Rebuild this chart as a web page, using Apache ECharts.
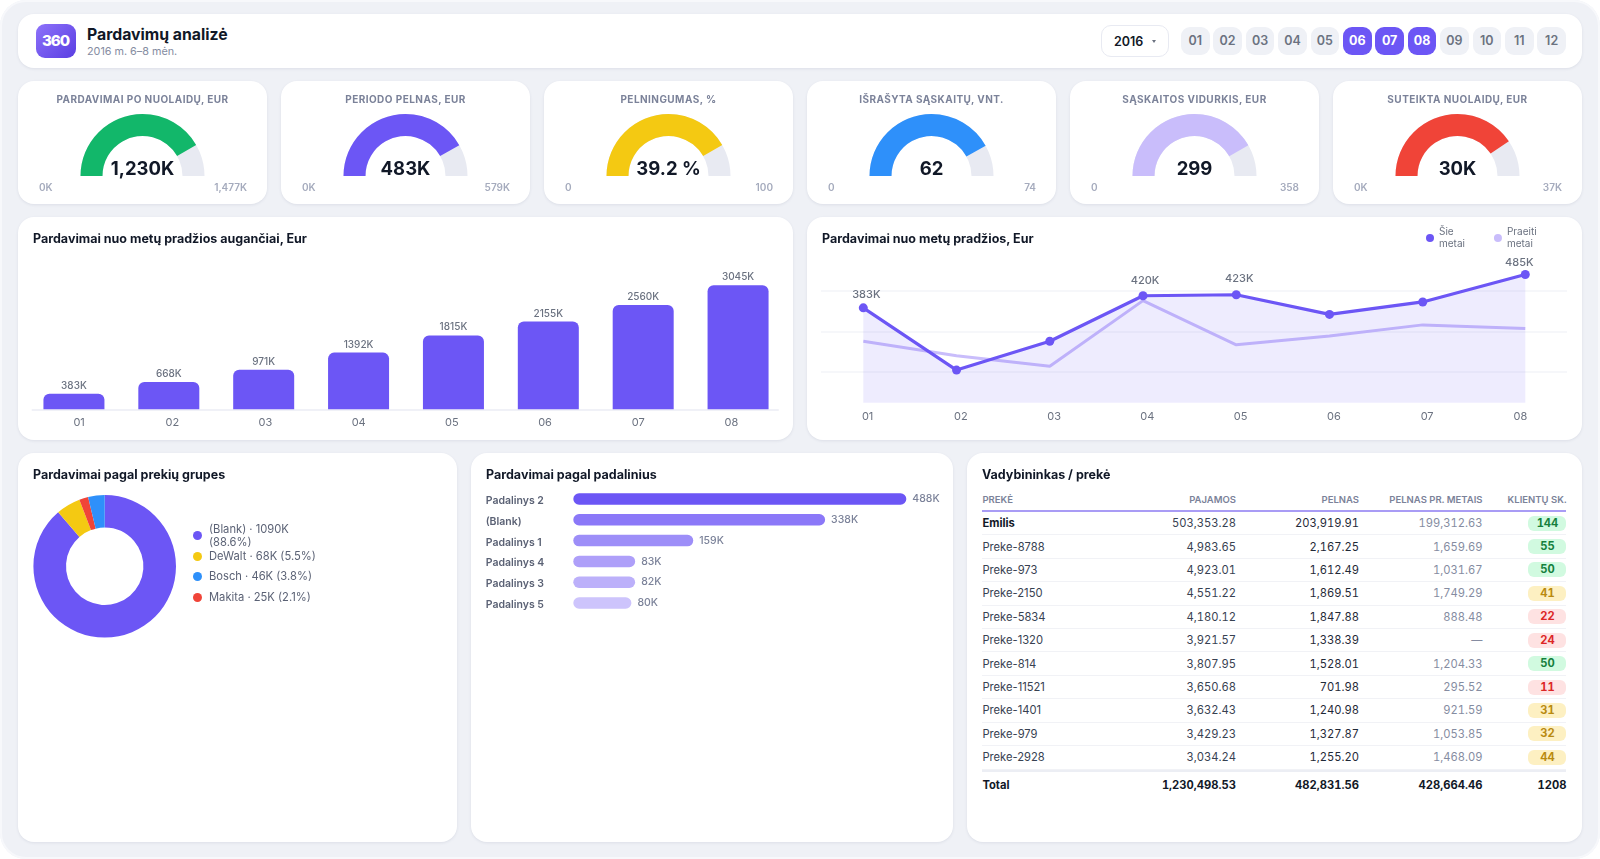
<!DOCTYPE html>
<html lang="lt">
<head>
<meta charset="UTF-8">
<title>Pardavimų analizė</title>
<script src="https://cdn.jsdelivr.net/npm/echarts@6/dist/echarts.min.js"></script>
<style>
    * { box-sizing: border-box; }
    html, body { margin: 0; width: 1600px; height: 859px; overflow: hidden; background: #fff; font-family: Inter, sans-serif; color: #111827; }
    .page { position: absolute; left: 0; top: 0; width: 1600px; height: 859px; background: #eff1f6; border-radius: 26px; box-shadow: inset 0 0 0 2px #f7f8fb; }
    .card { position: absolute; background: #fff; border-radius: 16px; box-shadow: 0 1px 3px rgba(60, 70, 110, 0.10); }
    .chart { position: absolute; left: 0; top: 0; width: 100%; height: 100%; }
    .card-title { position: absolute; left: 15px; top: 13.5px; font-size: 12.5px; line-height: 16px; font-weight: 700; color: #111827; z-index: 2; }

    .logo { position: absolute; left: 17.5px; top: 10.5px; width: 40px; height: 34px; border-radius: 9px; background: linear-gradient(135deg, #8d72fa, #5a3ee2); color: #fff; font-size: 15px; font-weight: 800; letter-spacing: -1px; line-height: 34px; text-align: center; }
    .head-title { position: absolute; left: 69px; top: 10px; font-size: 15.8px; line-height: 21px; font-weight: 700; }
    .head-sub { position: absolute; left: 69px; top: 30px; font-size: 10.8px; line-height: 15px; color: #858ca1; }
    .year { position: absolute; left: 1083px; top: 11.5px; width: 68px; height: 32px; border: 1px solid #e8eaf2; border-radius: 10px; font-size: 12.5px; font-weight: 600; line-height: 31px; padding-left: 12px; }
    .year i { position: absolute; left: 50px; top: 14px; border: 2.5px solid transparent; border-top: 3px solid #6b7280; }
    .month { position: absolute; top: 13.5px; width: 28.5px; height: 28px; border-radius: 9px; background: #eff1f6; color: #6b7280; font-size: 12.5px; font-weight: 600; line-height: 28px; text-align: center; }
    .month.on { background: #6c56f5; color: #fff; font-weight: 700; }

    .kpi-title { position: absolute; left: 0; right: 0; top: 10.5px; text-align: center; font-size: 10px; line-height: 14px; font-weight: 700; letter-spacing: 0.45px; color: #7b8299; }
    .kpi-min, .kpi-max { position: absolute; top: 100px; font-size: 10px; line-height: 12px; font-weight: 600; color: #a5abbd; }
    .kpi-min { left: 21px; }
    .kpi-max { right: 20px; }

    .legend-rows { position: absolute; left: 175px; top: 72.5px; width: 130px; font-size: 11.2px; line-height: 13px; color: #5b6275; }
    .legend-row { position: relative; height: 20.5px; padding-left: 16px; display: flex; align-items: center; }
    .legend-row i { position: absolute; left: 0; top: 50%; margin-top: -4.5px; width: 9px; height: 9px; border-radius: 50%; }

    .t-wrap { position: absolute; left: 15.4px; top: 35.5px; width: 584.1px; font-size: 11.2px; font-variant-numeric: tabular-nums; }
    .t-row { display: flex; height: 23.43px; align-items: center; border-bottom: 1.5px solid #f1f2f6; color: #111827; }
    .t-row > div { text-align: right; white-space: nowrap; }
    .t-row > div:nth-child(1) { width: 130.6px; text-align: left; color: #374151; font-variant-numeric: normal; }
    .t-row > div:nth-child(2) { width: 123px; color: #374151; }
    .t-row > div:nth-child(3) { width: 123px; color: #1f2937; }
    .t-row > div:nth-child(4) { width: 123.5px; }
    .t-row > div:nth-child(5) { flex: 1; }
    .t-row .prev { color: #858ca1; }
    .t-row > .clients { display: flex; justify-content: flex-end; }
    .badge { width: 38px; height: 15px; line-height: 15px; border-radius: 6px; text-align: center; font-weight: 700; }
    .t-head { height: 23.4px; border-bottom: 2px solid #a99cf5; font-size: 9.5px; font-weight: 600; }
    .t-head > div, .t-head > div:nth-child(n) { color: #7b8299; }
    .t-row.first > div:nth-child(1) { font-weight: 700; color: #111827; }
    .t-total { height: 29px; border-bottom: 0; border-top: 2.5px solid #eceef4; font-weight: 700; }
    .t-total > div, .t-total > div:nth-child(n) { color: #111827; }
    .t-total > .clients { text-align: right; display: block; }
</style>
</head>
<body>
<div class="page" id="page"></div>
<script>
    var months = ['01', '02', '03', '04', '05', '06', '07', '08', '09', '10', '11', '12'];
    var activeMonths = ['06', '07', '08'];

    var kpiTitles = ['PARDAVIMAI PO NUOLAIDŲ, EUR', 'PERIODO PELNAS, EUR', 'PELNINGUMAS, %', 'IŠRAŠYTA SĄSKAITŲ, VNT.', 'SĄSKAITOS VIDURKIS, EUR', 'SUTEIKTA NUOLAIDŲ, EUR'];
    var kpiValues = [1230, 483, 39.2, 62, 299, 30];
    var kpiScaleMax = [1477, 579, 47, 74, 358, 37]; // pelningumas gauge is drawn to 47 though its label says 100
    var kpiValueLabels = ['1,230K', '483K', '39.2 %', '62', '299', '30K'];
    var kpiMinLabels = ['0K', '0K', '0', '0', '0', '0K'];
    var kpiMaxLabels = ['1,477K', '579K', '100', '74', '358', '37K'];
    var kpiColors = ['#12b76a', '#6c56f5', '#f4c912', '#2e90fa', '#c9bdfb', '#f04438'];

    var periods = ['01', '02', '03', '04', '05', '06', '07', '08'];
    var cumulativeSales = [383, 668, 971, 1392, 1815, 2155, 2560, 3045];
    var linePeriods = [1, 2, 3, 4, 5, 6, 7, 8.1]; // the last point sits further right in the picture
    var salesThisYear = [383, 193, 281, 420, 423, 363, 401, 485];
    var salesLastYear = [281, 237, 205, 405, 270, 297, 331, 320];
    var labelledPoints = [0, 3, 4, 7];

    var groupNames = ['(Blank)', 'DeWalt', 'Makita', 'Bosch'];
    var groupValues = [1090, 68, 25, 46];
    var groupColors = ['#6c56f5', '#f4c912', '#f04438', '#2e90fa'];
    var groupLegendOrder = ['(Blank)', 'DeWalt', 'Bosch', 'Makita'];
    var groupLegendText = ['(Blank) · 1090K (88.6%)', 'DeWalt · 68K (5.5%)', 'Bosch · 46K (3.8%)', 'Makita · 25K (2.1%)'];

    var deptNames = ['Padalinys 2', '(Blank)', 'Padalinys 1', 'Padalinys 4', 'Padalinys 3', 'Padalinys 5'];
    var deptBarLengths = [447, 338, 161, 83, 83, 78]; // top bar is shorter than its label
    var deptLabels = ['488K', '338K', '159K', '83K', '82K', '80K'];
    var deptColors = ['#6c56f5', '#8b78f8', '#9d8ef8', '#ae9ff9', '#bcb0fa', '#cdc4fc'];

    var tableHead = ['PREKĖ', 'PAJAMOS', 'PELNAS', 'PELNAS PR. METAIS', 'KLIENTŲ SK.'];
    var rowNames = ['Emilis', 'Preke-8788', 'Preke-973', 'Preke-2150', 'Preke-5834', 'Preke-1320', 'Preke-814', 'Preke-11521', 'Preke-1401', 'Preke-979', 'Preke-2928'];
    var rowRevenue = ['503,353.28', '4,983.65', '4,923.01', '4,551.22', '4,180.12', '3,921.57', '3,807.95', '3,650.68', '3,632.43', '3,429.23', '3,034.24'];
    var rowProfit = ['203,919.91', '2,167.25', '1,612.49', '1,869.51', '1,847.88', '1,338.39', '1,528.01', '701.98', '1,240.98', '1,327.87', '1,255.20'];
    var rowPrevProfit = ['199,312.63', '1,659.69', '1,031.67', '1,749.29', '888.48', '—', '1,204.33', '295.52', '921.59', '1,053.85', '1,468.09'];
    var rowClients = [144, 55, 50, 41, 22, 24, 50, 11, 31, 32, 44];
    var totalRow = ['Total', '1,230,498.53', '482,831.56', '428,664.46', '1208'];

    var page = document.getElementById('page');
    var font = 'Inter, sans-serif';

    function addCard(x, y, w, h) {
        var el = document.createElement('div');
        el.className = 'card';
        el.style.cssText = 'left:' + x + 'px;top:' + y + 'px;width:' + w + 'px;height:' + h + 'px';
        page.appendChild(el);
        return el;
    }
    function addDiv(parent, cls, text) {
        var el = document.createElement('div');
        el.className = cls;
        if (text !== undefined) el.textContent = text;
        parent.appendChild(el);
        return el;
    }
    function addChart(parent, option) {
        var box = addDiv(parent, 'chart');
        var c = echarts.init(box);
        option.animation = false;
        c.setOption(option);
        return c;
    }

    // header
    var head = addCard(18, 13.5, 1564, 54);
    addDiv(head, 'logo', '360');
    addDiv(head, 'head-title', 'Pardavimų analizė');
    addDiv(head, 'head-sub', '2016 m. 6–8 mėn.');
    var year = addDiv(head, 'year', '2016');
    year.appendChild(document.createElement('i'));
    months.forEach(function (m, i) {
        var el = addDiv(head, 'month' + (activeMonths.indexOf(m) >= 0 ? ' on' : ''), m);
        el.style.left = (1163 + i * 32.4) + 'px';
    });

    // gauges
    kpiTitles.forEach(function (title, i) {
        var card = addCard(18 + i * 263, 81, 249, 123);
        addChart(card, {
            series: [{
                type: 'gauge',
                center: ['50%', 95],
                radius: 62,
                startAngle: 180,
                endAngle: 0,
                min: 0,
                max: kpiScaleMax[i],
                axisLine: { lineStyle: { width: 22, color: [[1, '#e8eaf2']] } },
                progress: { show: true, width: 22, itemStyle: { color: kpiColors[i] } },
                pointer: { show: false },
                axisTick: { show: false },
                splitLine: { show: false },
                axisLabel: { show: false },
                title: { show: false },
                detail: {
                    offsetCenter: [0, -7],
                    fontSize: 18.5,
                    fontWeight: 700,
                    fontFamily: font,
                    color: '#111827',
                    formatter: function () { return kpiValueLabels[i]; }
                },
                data: [{ value: kpiValues[i] }]
            }]
        });
        addDiv(card, 'kpi-title', title);
        addDiv(card, 'kpi-min', kpiMinLabels[i]);
        addDiv(card, 'kpi-max', kpiMaxLabels[i]);
    });

    // cumulative bars
    var barCard = addCard(18, 217, 775, 223);
    addChart(barCard, {
        grid: [
            { left: 8.5, top: 62, width: 759, height: 130.3 },
            { left: 14.5, top: 62, width: 745.5, height: 130.3 }
        ],
        xAxis: [
            { type: 'category', gridIndex: 0, data: periods, show: false },
            {
                type: 'category', gridIndex: 1, data: periods,
                axisLine: { lineStyle: { color: '#f0f1f7', width: 2 } },
                axisTick: { show: false },
                axisLabel: { color: '#6b7280', fontSize: 11, fontFamily: font, margin: 8 }
            }
        ],
        yAxis: [
            { type: 'value', gridIndex: 0, min: 0, max: 3200, show: false },
            { type: 'value', gridIndex: 1, min: 0, max: 3200, show: false }
        ],
        series: [{
            type: 'bar',
            data: cumulativeSales,
            barWidth: 61,
            itemStyle: { color: '#6c56f5', borderRadius: [6, 6, 0, 0] },
            label: {
                show: true, position: 'top', distance: 3,
                color: '#6b7280', fontSize: 10, fontWeight: 500, fontFamily: font,
                formatter: function (p) { return p.value + 'K'; }
            }
        }]
    });
    addDiv(barCard, 'card-title', 'Pardavimai nuo metų pradžios augančiai, Eur');

    // this year vs last year
    var lineLabelShift = { 0: [3, 2], 3: [2, 0], 4: [3, -1], 7: [-6, 3] };
    var lineCard = addCard(807, 217, 775, 223);
    addChart(lineCard, {
        legend: {
            data: ['Šie metai', 'Praeiti metai'],
            left: 614,
            top: 4,
            icon: 'circle',
            itemWidth: 8,
            itemHeight: 8,
            itemGap: 29,
            itemStyle: { opacity: 1 },
            textStyle: { color: '#6b7280', fontSize: 10, lineHeight: 12, fontFamily: font },
            formatter: function (name) { return name.replace(' ', '\n'); }
        },
        grid: [
            { left: 56.3, top: 45, width: 662, height: 150 },
            { left: 14, top: 33.6, width: 746, height: 161.6 }
        ],
        xAxis: [
            { type: 'value', gridIndex: 0, min: 1, max: 8.1, show: false, splitLine: { show: false } },
            {
                type: 'category', gridIndex: 1, data: periods,
                axisLine: { show: false },
                axisTick: { show: false },
                axisLabel: { color: '#6b7280', fontSize: 11, fontFamily: font, margin: -1 }
            }
        ],
        yAxis: [
            { type: 'value', gridIndex: 0, min: 65, max: 523, show: false, splitLine: { show: false } },
            {
                type: 'value', gridIndex: 1, min: 0, max: 4, interval: 1,
                axisLabel: { show: false },
                axisLine: { show: false },
                axisTick: { show: false },
                splitLine: { show: true, showMinLine: false, showMaxLine: false, lineStyle: { color: '#f3f4f8', width: 1.5 } }
            }
        ],
        series: [
            {
                name: 'Šie metai',
                type: 'line',
                data: salesThisYear.map(function (v, i) {
                    var item = { value: [linePeriods[i], v] };
                    if (lineLabelShift[i]) item.label = { offset: lineLabelShift[i] };
                    return item;
                }),
                z: 3,
                symbol: 'circle',
                symbolSize: 9,
                lineStyle: { color: '#6c56f5', width: 3.2 },
                itemStyle: { color: '#6c56f5' },
                areaStyle: { color: 'rgba(108, 86, 245, 0.16)', origin: 93.6 },
                label: {
                    show: true, position: 'top', distance: 5,
                    color: '#6b7280', fontSize: 11, fontWeight: 500, fontFamily: font,
                    formatter: function (p) { return labelledPoints.indexOf(p.dataIndex) >= 0 ? p.value[1] + 'K' : ''; }
                }
            },
            {
                name: 'Praeiti metai',
                type: 'line',
                data: salesLastYear.map(function (v, i) { return [linePeriods[i], v]; }),
                z: 2,
                symbol: 'none',
                lineStyle: { color: '#c9bdfb', width: 3 },
                itemStyle: { color: '#c9bdfb' }
            }
        ]
    });
    addDiv(lineCard, 'card-title', 'Pardavimai nuo metų pradžios, Eur');

    // donut
    var pieCard = addCard(18, 453, 439, 389);
    addChart(pieCard, {
        series: [{
            type: 'pie',
            center: [86.7, 113.3],
            radius: [38.7, 71.3],
            startAngle: 90,
            label: { show: false },
            labelLine: { show: false },
            data: groupNames.map(function (n, i) {
                return { name: n, value: groupValues[i], itemStyle: { color: groupColors[i] } };
            })
        }]
    });
    addDiv(pieCard, 'card-title', 'Pardavimai pagal prekių grupes');
    var legendRows = addDiv(pieCard, 'legend-rows');
    groupLegendOrder.forEach(function (n, i) {
        var row = addDiv(legendRows, 'legend-row');
        var dot = document.createElement('i');
        dot.style.background = groupColors[groupNames.indexOf(n)];
        row.appendChild(dot);
        addDiv(row, '', groupLegendText[i]);
    });

    // departments, names sit a little below their bars so they get their own grid
    var deptCard = addCard(471, 453, 482, 389);
    addChart(deptCard, {
        grid: [
            { left: 102.3, top: 35.6, width: 372.5, height: 124.8 },
            { left: 102.3, top: 37.4, width: 372.5, height: 124.8 }
        ],
        xAxis: [
            { type: 'value', gridIndex: 0, min: 0, max: 500, show: false },
            { type: 'value', gridIndex: 1, min: 0, max: 500, show: false }
        ],
        yAxis: [
            { type: 'category', gridIndex: 0, inverse: true, data: deptNames, show: false },
            {
                type: 'category',
                gridIndex: 1,
                inverse: true,
                data: deptNames,
                axisLine: { show: false },
                axisTick: { show: false },
                axisLabel: { align: 'left', margin: 87.6, color: '#5b6275', fontSize: 10.5, fontWeight: 600, fontFamily: font }
            }
        ],
        series: [{
            type: 'bar',
            barWidth: 11.5,
            data: deptBarLengths.map(function (v, i) {
                return { value: v, itemStyle: { color: deptColors[i], borderRadius: 6 } };
            }),
            label: {
                show: true, position: 'right', distance: 6,
                color: '#7b8299', fontSize: 10.5, fontWeight: 500, fontFamily: font,
                formatter: function (p) { return deptLabels[p.dataIndex]; }
            }
        }]
    });
    addDiv(deptCard, 'card-title', 'Pardavimai pagal padalinius');

    // table
    var tableCard = addCard(967, 453, 614.5, 389);
    addDiv(tableCard, 'card-title', 'Vadybininkas / prekė');
    var wrap = addDiv(tableCard, 't-wrap');
    var headRow = addDiv(wrap, 't-row t-head');
    tableHead.forEach(function (t) { addDiv(headRow, '', t); });
    function badgeStyle(n) {
        if (n >= 50) return 'background:#d1fae0;color:#15803d';
        if (n >= 30) return 'background:#fdf0c2;color:#b98a10';
        return 'background:#fee2e2;color:#dc2626';
    }
    rowNames.forEach(function (name, i) {
        var row = addDiv(wrap, 't-row' + (i === 0 ? ' first' : ''));
        addDiv(row, '', name);
        addDiv(row, '', rowRevenue[i]);
        addDiv(row, '', rowProfit[i]);
        addDiv(row, 'prev', rowPrevProfit[i]);
        var cell = addDiv(row, 'clients');
        var b = addDiv(cell, 'badge', rowClients[i]);
        b.style.cssText = badgeStyle(rowClients[i]);
    });
    var total = addDiv(wrap, 't-row t-total');
    totalRow.forEach(function (t, i) { addDiv(total, i === 4 ? 'clients' : '', t); });
</script>
</body>
</html>
